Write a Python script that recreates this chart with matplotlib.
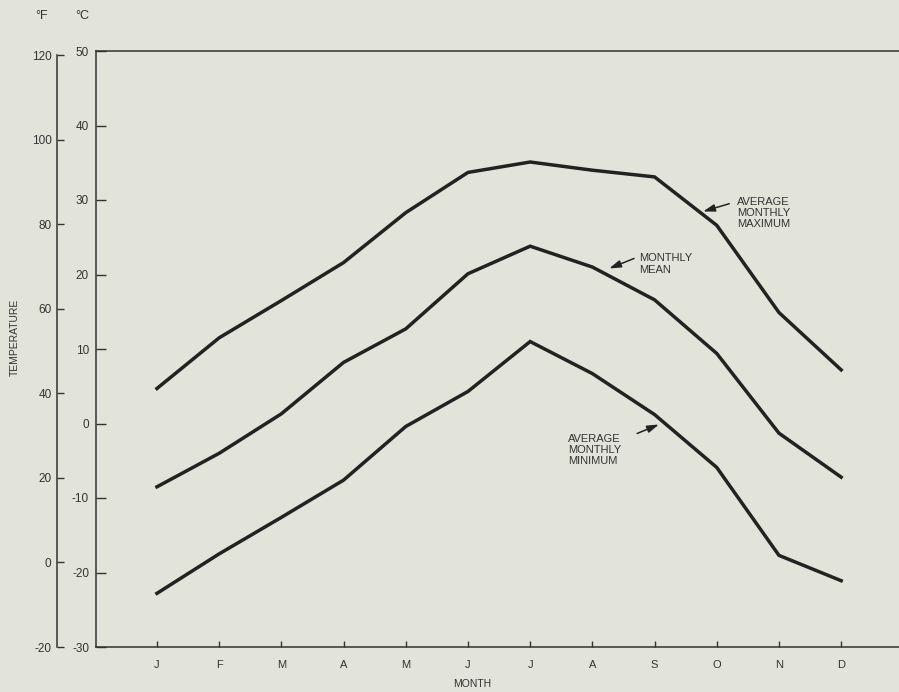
import matplotlib
matplotlib.use('Agg')
import matplotlib.pyplot as plt

# monthly temperatures, deg C
months = ['J', 'F', 'M', 'A', 'M', 'J', 'J', 'A', 'S', 'O', 'N', 'D']
avg_max = [4.7, 11.5, 16.5, 21.6, 28.3, 33.7, 35.1, 34.0, 33.1, 26.6, 14.9, 7.2]
monthly_mean = [-8.5, -4.0, 1.3, 8.2, 12.7, 20.1, 23.8, 21.0, 16.6, 9.4, -1.3, -7.2]
avg_min = [-22.8, -17.5, -12.6, -7.6, -0.4, 4.3, 11.0, 6.7, 1.2, -5.9, -17.7, -21.1]

c_ticks = [50, 40, 30, 20, 10, 0, -10, -20, -30]
f_ticks = [120, 100, 80, 60, 40, 20, 0, -20]

bg = '#e2e3d9'
ink = '#222222'

plt.rcParams['font.family'] = ['Liberation Sans', 'DejaVu Sans']
plt.rcParams['axes.unicode_minus'] = False

fig = plt.figure(figsize=(8.99, 6.92), dpi=100, facecolor=bg)
ax = fig.add_axes([96 / 899, 45 / 692, 803 / 899, 596 / 692], facecolor=bg)

x = list(range(len(months)))
for series in (avg_max, monthly_mean, avg_min):
    ax.plot(x, series, color=ink, lw=2.5, solid_joinstyle='miter')

ax.set_xlim(-0.98, 11.93)
ax.set_ylim(-30, 50)
ax.set_xticks(x)
ax.set_xticklabels(months)
ax.set_yticks(c_ticks)
ax.set_yticklabels([str(t) for t in c_ticks])

for s in ('left', 'top', 'bottom'):
    ax.spines[s].set_color('#333333')
    ax.spines[s].set_linewidth(1.1)
ax.spines['right'].set_visible(False)

ax.tick_params(axis='y', direction='in', length=7, width=1, pad=5,
               labelsize=8.5, colors='#333333')
ax.tick_params(axis='x', direction='in', length=4.5, width=1, pad=9,
               labelsize=8, colors='#333333')

# Fahrenheit scale drawn as separate axis line on the far left
ax2 = ax.twinx()
ax2.set_ylim(-20, 121)
for s in ('right', 'top', 'bottom'):
    ax2.spines[s].set_visible(False)
ax2.spines['left'].set_position(('axes', -39 / 803))
ax2.spines['left'].set_bounds(-20, 120)
ax2.spines['left'].set_color('#333333')
ax2.spines['left'].set_linewidth(1.1)
ax2.yaxis.tick_left()
ax2.set_yticks(f_ticks)
ax2.set_yticklabels([str(t) for t in f_ticks])
ax2.tick_params(axis='y', direction='in', length=5, width=1, pad=4,
                labelsize=8.5, colors='#333333')

# curve labels with arrows
arrow = dict(arrowstyle='-|>,head_length=0.7,head_width=0.22', color=ink, lw=1.1,
             shrinkA=0, shrinkB=0)
ax.annotate('', xy=(8.78, 28.46), xytext=(9.20, 29.5), arrowprops=arrow)
ax.text(9.32, 28.25, 'AVERAGE\nMONTHLY\nMAXIMUM', fontsize=8, color='#333333',
        ha='left', va='center', linespacing=1.15)

ax.annotate('', xy=(7.27, 20.81), xytext=(7.67, 22.15), arrowprops=arrow)
ax.text(7.75, 21.4, 'MONTHLY\nMEAN', fontsize=8, color='#333333',
        ha='left', va='center', linespacing=1.15)

ax.annotate('', xy=(8.07, -0.13), xytext=(7.72, -1.34), arrowprops=arrow)
ax.text(6.61, -3.56, 'AVERAGE\nMONTHLY\nMINIMUM', fontsize=8, color='#333333',
        ha='left', va='center', linespacing=1.15)

fig.text(42 / 899, 1 - 16 / 692, '°F', fontsize=9, color='#333333', ha='center', va='center')
fig.text(82 / 899, 1 - 16 / 692, '°C', fontsize=9, color='#333333', ha='center', va='center')
fig.text(15 / 899, 1 - 337 / 692, 'TEMPERATURE', fontsize=7.5, color='#333333',
         rotation=90, ha='center', va='center')
fig.text(472 / 899, 1 - 684 / 692, 'MONTH', fontsize=7.5, color='#333333',
         ha='center', va='center')

fig.savefig('out.png', dpi=100, facecolor=bg)
